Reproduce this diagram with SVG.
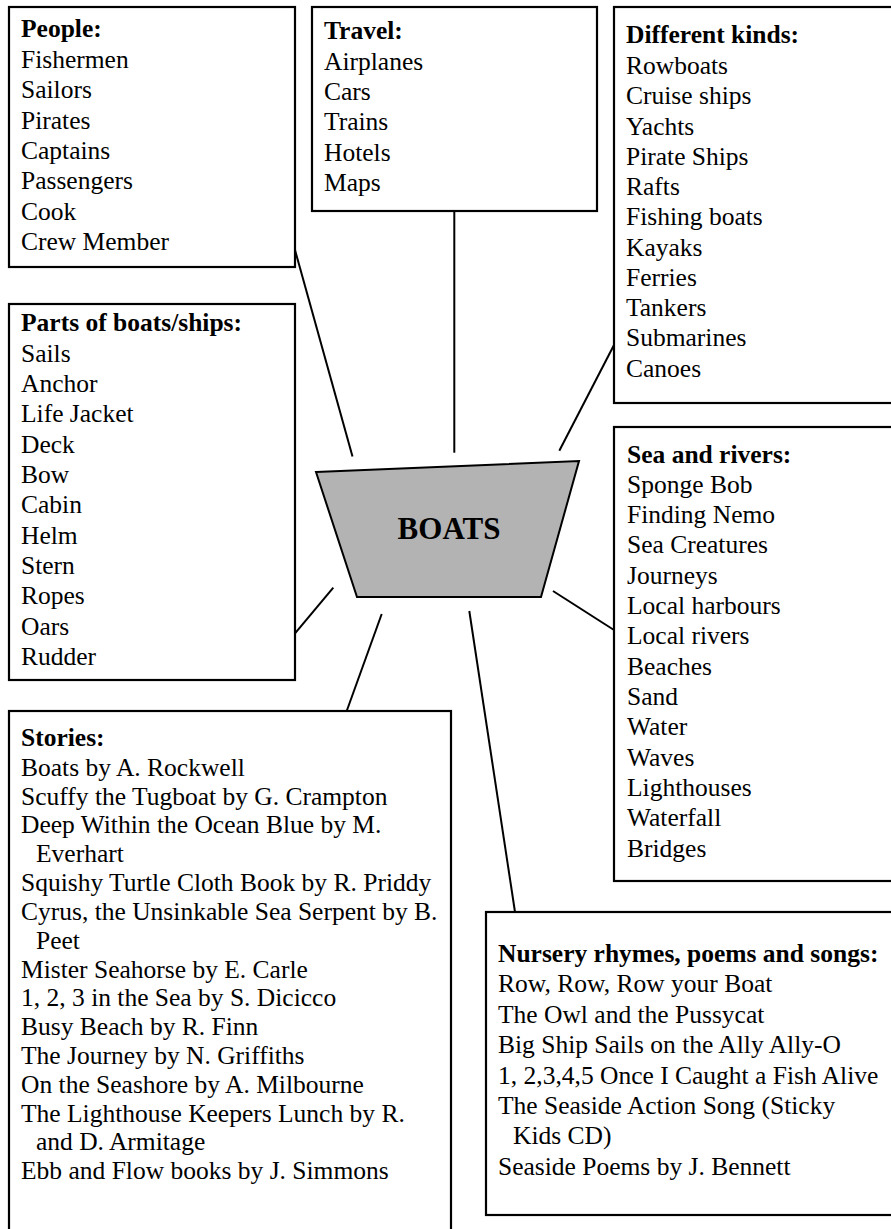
<svg xmlns="http://www.w3.org/2000/svg" width="891" height="1229" viewBox="0 0 891 1229">
<style>
.box{fill:#fff;stroke:#000;stroke-width:2.2}
.con line{stroke:#000;stroke-width:2}
text{font-family:"Liberation Serif","Times New Roman",serif;font-size:25.5px;fill:#000}
.h{font-weight:bold}
.boat{fill:#b3b3b3;stroke:#000;stroke-width:2}
.title{font-weight:bold;font-size:31px;text-anchor:middle}
</style>
<rect width="891" height="1229" fill="#fff"/>
<g class="con" id="connectors">
<line x1="295" y1="250" x2="352.5" y2="456.5"/>
<line x1="454.3" y1="211" x2="454.3" y2="452.7"/>
<line x1="614" y1="345" x2="559.3" y2="450.7"/>
<line x1="295" y1="633.3" x2="333.3" y2="587.7"/>
<line x1="381.7" y1="614" x2="346.7" y2="711"/>
<line x1="469.3" y1="611" x2="515" y2="912"/>
<line x1="553" y1="591" x2="614" y2="630"/>
</g>
<g id="center">
<polygon class="boat" points="316,472 579,461 541,597 357,597"/>
<text class="title" x="449" y="539">BOATS</text>
</g>
<g id="people">
<rect class="box" x="9" y="7" width="286" height="260"/>
<text class="h" x="21" y="37">People:</text>
<text x="21" y="67.7">Fishermen</text>
<text x="21" y="98.1">Sailors</text>
<text x="21" y="128.5">Pirates</text>
<text x="21" y="158.9">Captains</text>
<text x="21" y="189.3">Passengers</text>
<text x="21" y="219.7">Cook</text>
<text x="21" y="250.1">Crew Member</text>
</g>
<g id="travel">
<rect class="box" x="312" y="7" width="285" height="204"/>
<text class="h" x="324" y="39">Travel:</text>
<text x="324" y="70">Airplanes</text>
<text x="324" y="100.2">Cars</text>
<text x="324" y="130.4">Trains</text>
<text x="324" y="160.6">Hotels</text>
<text x="324" y="190.8">Maps</text>
</g>
<g id="kinds">
<rect class="box" x="614" y="7" width="290" height="396"/>
<text class="h" x="626" y="43.3">Different kinds:</text>
<text x="626" y="74">Rowboats</text>
<text x="626" y="104.3">Cruise ships</text>
<text x="626" y="134.5">Yachts</text>
<text x="626" y="164.8">Pirate Ships</text>
<text x="626" y="195.1">Rafts</text>
<text x="626" y="225.4">Fishing boats</text>
<text x="626" y="255.6">Kayaks</text>
<text x="626" y="285.9">Ferries</text>
<text x="626" y="316.2">Tankers</text>
<text x="626" y="346.4">Submarines</text>
<text x="626" y="376.7">Canoes</text>
</g>
<g id="parts">
<rect class="box" x="9" y="304" width="286" height="376"/>
<text class="h" x="21" y="330.7">Parts of boats/ships:</text>
<text x="21" y="361.7">Sails</text>
<text x="21" y="392">Anchor</text>
<text x="21" y="422.3">Life Jacket</text>
<text x="21" y="452.7">Deck</text>
<text x="21" y="483">Bow</text>
<text x="21" y="513.3">Cabin</text>
<text x="21" y="543.7">Helm</text>
<text x="21" y="574">Stern</text>
<text x="21" y="604.3">Ropes</text>
<text x="21" y="634.7">Oars</text>
<text x="21" y="665">Rudder</text>
</g>
<g id="sea">
<rect class="box" x="614" y="427" width="290" height="454"/>
<text class="h" x="627" y="463">Sea and rivers:</text>
<text x="627" y="492.7">Sponge Bob</text>
<text x="627" y="523">Finding Nemo</text>
<text x="627" y="553.3">Sea Creatures</text>
<text x="627" y="583.7">Journeys</text>
<text x="627" y="614">Local harbours</text>
<text x="627" y="644.3">Local rivers</text>
<text x="627" y="674.7">Beaches</text>
<text x="627" y="705">Sand</text>
<text x="627" y="735.3">Water</text>
<text x="627" y="765.7">Waves</text>
<text x="627" y="796">Lighthouses</text>
<text x="627" y="826.3">Waterfall</text>
<text x="627" y="856.7">Bridges</text>
</g>
<g id="stories">
<rect class="box" x="9" y="711" width="442" height="600"/>
<text class="h" x="21" y="746">Stories:</text>
<text x="21" y="775.7">Boats by A. Rockwell</text>
<text x="21" y="804.5">Scuffy the Tugboat by G. Crampton</text>
<text x="21" y="833.3">Deep Within the Ocean Blue by M.</text>
<text x="36" y="862.2">Everhart</text>
<text x="21" y="891">Squishy Turtle Cloth Book by R. Priddy</text>
<text x="21" y="919.8">Cyrus, the Unsinkable Sea Serpent by B.</text>
<text x="36" y="948.6">Peet</text>
<text x="21" y="977.5">Mister Seahorse by E. Carle</text>
<text x="21" y="1006.3">1, 2, 3 in the Sea by S. Dicicco</text>
<text x="21" y="1035.1">Busy Beach by R. Finn</text>
<text x="21" y="1063.9">The Journey by N. Griffiths</text>
<text x="21" y="1092.8">On the Seashore by A. Milbourne</text>
<text x="21" y="1121.6">The Lighthouse Keepers Lunch by R.</text>
<text x="36" y="1150.4">and D. Armitage</text>
<text x="21" y="1179.2">Ebb and Flow books by J. Simmons</text>
</g>
<g id="nursery">
<rect class="box" x="486" y="912" width="420" height="303"/>
<text class="h" x="498" y="961.7">Nursery rhymes, poems and songs:</text>
<text x="498" y="992.3">Row, Row, Row your Boat</text>
<text x="498" y="1022.7">The Owl and the Pussycat</text>
<text x="498" y="1053.1">Big Ship Sails on the Ally Ally-O</text>
<text x="498" y="1083.5">1, 2,3,4,5 Once I Caught a Fish Alive</text>
<text x="498" y="1113.9">The Seaside Action Song (Sticky</text>
<text x="513" y="1144.3">Kids CD)</text>
<text x="498" y="1174.7">Seaside Poems by J. Bennett</text>
</g>
</svg>
